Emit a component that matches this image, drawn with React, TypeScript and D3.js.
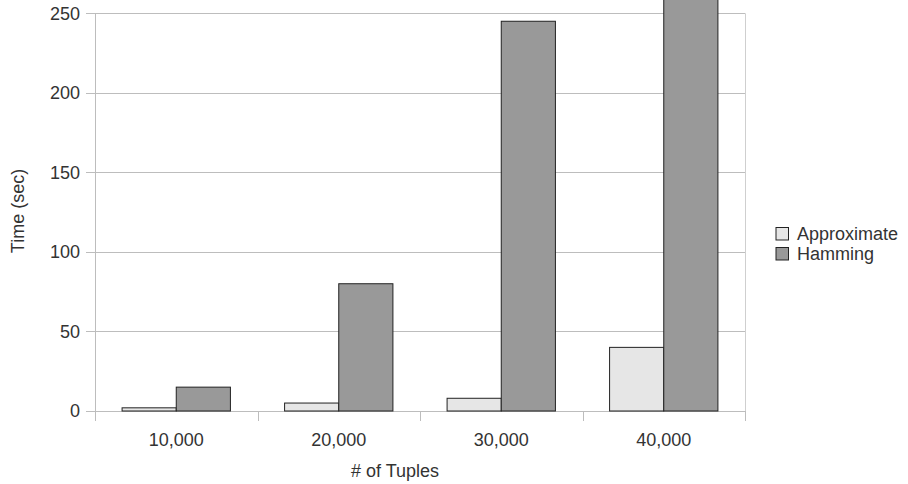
import React from "react";
import * as d3 from "d3";

const categories = ["10,000", "20,000", "30,000", "40,000"];
const seriesNames = ["Approximate", "Hamming"];
const approximate = [2, 5, 8, 40];
const hamming = [15, 80, 245, 320];
const yTicks = [0, 50, 100, 150, 200, 250];
const colors = ["#e6e6e6", "#999999"];

export default function App() {
  const W = 908, H = 484;
  const left = 95, right = 745, top = 13.3, bottom = 411;
  const x = d3.scaleBand<string>().domain(categories).range([left, right]);
  const inner = d3.scaleBand<string>().domain(seriesNames).range([0, x.bandwidth()]).paddingOuter(0.5).paddingInner(0);
  const y = d3.scaleLinear().domain([0, 250]).range([bottom, top]);
  const series = [approximate, hamming];
  const font = "'Liberation Sans', Arial, sans-serif";
  const fs = 18;
  const edges = categories.map((c) => x(c)!).concat([right]);
  return (
    <svg width={W} height={H} style={{ position: "absolute", left: 0, top: 0 }} fontFamily={font}>
      <rect width={W} height={H} fill="#fff" />
      {yTicks.map((t) => (
        <g key={t}>
          <line x1={left - 9} x2={right} y1={Math.round(y(t)) + 0.5} y2={Math.round(y(t)) + 0.5} stroke="#bdbdbd" />
          <text x={80} y={y(t)} dy="0.35em" textAnchor="end" fontSize={fs} fill="#333">{t}</text>
        </g>
      ))}
      <line x1={left + 0.5} x2={left + 0.5} y1={y(250)} y2={bottom + 10} stroke="#bdbdbd" />
      <line x1={right + 0.5} x2={right + 0.5} y1={y(250)} y2={bottom + 10} stroke="#cfcfcf" />
      {edges.map((e, i) => (
        <line key={i} x1={Math.round(e) + 0.5} x2={Math.round(e) + 0.5} y1={bottom} y2={bottom + 10} stroke="#bdbdbd" />
      ))}
      {categories.map((c, ci) => (
        <g key={c}>
          {seriesNames.map((s, si) => {
            const v = series[si][ci];
            const bx = x(c)! + inner(s)!;
            return (
              <rect key={s} x={bx} y={y(v)} width={inner.bandwidth()} height={y(0) - y(v)}
                fill={colors[si]} stroke="#222" strokeWidth={1} />
            );
          })}
          <text x={x(c)! + x.bandwidth() / 2} y={446} textAnchor="middle" fontSize={fs} fill="#333">{c}</text>
        </g>
      ))}
      <text x={395} y={477} textAnchor="middle" fontSize={fs} fill="#333"># of Tuples</text>
      <text transform="translate(24,211) rotate(-90)" textAnchor="middle" fontSize={fs} fill="#333">Time (sec)</text>
      {seriesNames.map((s, i) => (
        <g key={s} transform={`translate(776,${227.5 + i * 20})`}>
          <rect x={0} y={0} width={12.5} height={12.5} fill={colors[i]} stroke="#222" />
          <text x={21} y={6.5} dy="0.35em" fontSize={fs} fill="#333">{s}</text>
        </g>
      ))}
    </svg>
  );
}
